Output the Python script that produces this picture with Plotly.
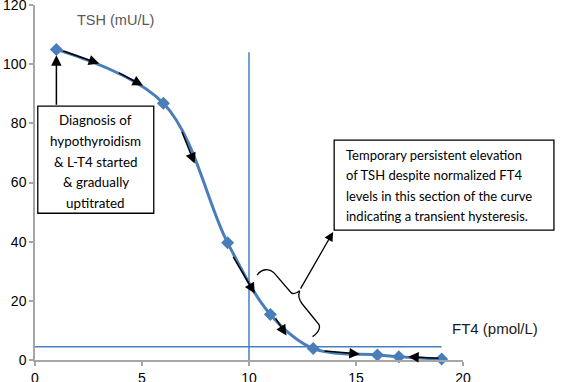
import plotly.graph_objects as go

# ---- data ----
ft4 = [1, 6, 9, 11, 13, 16, 17, 19]
tsh = [105, 86.8, 39.6, 15.4, 3.9, 1.7, 1.1, 0.3]

x_ticks = [0, 5, 10, 15, 20]
y_ticks = [0, 20, 40, 60, 80, 100, 120]

ft4_ref = 10          # vertical reference line (FT4)
ft4_ref_top = 104
tsh_ref = 4.5         # horizontal reference line (TSH)
tsh_ref_end = 19

# direction arrows along the curve: (tail_x, tail_y, head_x, head_y)
arrows_x0 = [1.25, 3.85, 6.84, 9.22, 11.2, 13.46, 18.92]
arrows_y0 = [104.6, 97.3, 77.6, 35.4, 14.6, 3.1, 0.6]
arrows_x1 = [3.0, 5.05, 7.46, 10.27, 11.75, 15.18, 17.44]
arrows_y1 = [100.2, 92.8, 66.4, 22.5, 8.3, 2.0, 1.1]

left_lines = ["Diagnosis of", "hypothyroidism", "& L-T4 started", "& gradually", "uptitrated"]
right_lines = ["Temporary persistent elevation", "of TSH despite normalized FT4",
               "levels in this section of the curve", "indicating a transient hysteresis."]

BLUE = "#4A7EBB"
XMAX, YMAX = 20, 120
TXT_FONT = "Lato"

fig = go.Figure()
fig.add_trace(go.Scatter(
    x=ft4, y=tsh, mode="lines+markers",
    line=dict(color=BLUE, width=3, shape="spline", smoothing=1.0),
    marker=dict(symbol="diamond", size=10, color=BLUE),
    hoverinfo="skip", showlegend=False, cliponaxis=False))

shapes = []
# reference lines
shapes.append(dict(type="line", xref="x", yref="y", x0=ft4_ref, x1=ft4_ref, y0=0, y1=ft4_ref_top,
                   line=dict(color=BLUE, width=1.5)))
shapes.append(dict(type="line", xref="x", yref="y", x0=0, x1=tsh_ref_end, y0=tsh_ref, y1=tsh_ref,
                   line=dict(color=BLUE, width=1.5)))
# left text box
shapes.append(dict(type="rect", xref="x", yref="y", x0=0.13, x1=5.55, y0=49.6, y1=85.8,
                   line=dict(color="black", width=1.3), fillcolor="white", layer="above"))
# right text box (extends past the plot area -> paper coords)
shapes.append(dict(type="rect", xref="paper", yref="paper", x0=13.98 / XMAX, x1=24.25 / XMAX,
                   y0=43.9 / YMAX, y1=74.3 / YMAX,
                   line=dict(color="black", width=1.3), fillcolor="white", layer="above"))
# curly brace
brace = ("M 10.38 28.7 C 10.6 31.0, 10.95 30.9, 11.15 29.6 L 11.95 22.9 "
         "Q 12.1 21.8, 12.37 23.4 "
         "M 12.37 23.4 Q 12.25 21.3, 12.47 19.1 L 13.2 12.6 "
         "C 13.38 11.4, 13.3 9.6, 12.97 7.9")
shapes.append(dict(type="path", xref="x", yref="y", path=brace,
                   line=dict(color="black", width=1.3)))

annotations = []
for x0, y0, x1, y1 in zip(arrows_x0, arrows_y0, arrows_x1, arrows_y1):
    annotations.append(dict(x=x1, y=y1, ax=x0, ay=y0, xref="x", yref="y", axref="x", ayref="y",
                            showarrow=True, arrowhead=2, arrowsize=1.4, arrowwidth=1.5,
                            arrowcolor="black", text=""))
# diagnosis arrow (box -> first point)
annotations.append(dict(x=1, y=103.0, ax=1, ay=85.8, xref="x", yref="y", axref="x", ayref="y",
                        showarrow=True, arrowhead=2, arrowsize=1.4, arrowwidth=1.5,
                        arrowcolor="black", text=""))
# brace -> box arrow
annotations.append(dict(x=13.93, y=43.3, ax=12.37, ay=23.6, xref="x", yref="y", axref="x", ayref="y",
                        showarrow=True, arrowhead=2, arrowsize=1.4, arrowwidth=1.3,
                        arrowcolor="black", text=""))

left_y = [81.0, 74.0, 67.0, 60.1, 53.1]
for t, yy in zip(left_lines, left_y):
    annotations.append(dict(x=2.84, y=yy, xref="x", yref="y", text=t, showarrow=False,
                            xanchor="center", yanchor="middle",
                            font=dict(family=TXT_FONT, size=13.4, color="black")))
right_y = [69.4, 62.4, 55.5, 48.6]
for t, yy in zip(right_lines, right_y):
    annotations.append(dict(x=14.45, y=yy, xref="x", yref="y", text=t, showarrow=False,
                            xanchor="left", yanchor="middle",
                            font=dict(family=TXT_FONT, size=13, color="black")))

annotations.append(dict(x=1.87, y=115, xref="x", yref="y", text="TSH (mU/L)", showarrow=False,
                        xanchor="left", yanchor="middle",
                        font=dict(family="Liberation Sans", size=14.5, color="#595959")))
annotations.append(dict(x=19.39, y=10.7, xref="x", yref="y", text="FT4 (pmol/L)", showarrow=False,
                        xanchor="left", yanchor="middle",
                        font=dict(family="Liberation Sans", size=15, color="#1a1a1a")))

axis_common = dict(showgrid=False, zeroline=False, showline=True, linecolor="#a6a6a6",
                   linewidth=1.5, ticks="outside", ticklen=4, tickcolor="#a6a6a6", tickwidth=1.5,
                   automargin=False, ticklabeloverflow="allow",
                   tickfont=dict(family="Liberation Sans", size=14, color="black"))

fig.update_layout(
    width=561, height=382,
    margin=dict(l=35, r=98, t=5, b=22, pad=0, autoexpand=False),
    paper_bgcolor="white", plot_bgcolor="white",
    xaxis=dict(range=[0, XMAX], tickvals=x_ticks, **axis_common),
    yaxis=dict(range=[0, YMAX], tickvals=y_ticks, **axis_common),
    shapes=shapes, annotations=annotations, showlegend=False)

fig.write_html("out.html", config={"displayModeBar": False},
               post_script="document.body.style.margin='0';document.body.style.overflow='hidden';")
